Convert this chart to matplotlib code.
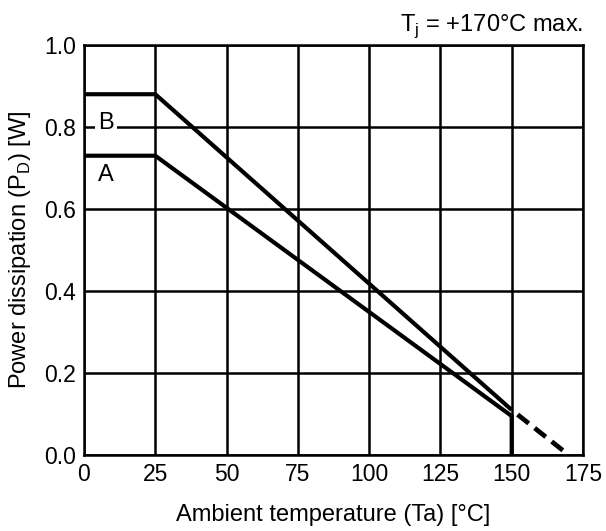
import matplotlib
matplotlib.use("Agg")
import matplotlib.pyplot as plt

plt.rcParams["font.family"] = ["Liberation Sans", "DejaVu Sans"]

# derating curves (ambient temp in degC, power in W)
temp_a = [0, 25, 150, 150]
power_a = [0.73, 0.73, 0.095, 0.0]
temp_b = [0, 25, 150]
power_b = [0.88, 0.88, 0.11]
temp_b_ext = [150, 170]
power_b_ext = [0.11, 0.0]

x_ticks = [0, 25, 50, 75, 100, 125, 150, 175]
y_ticks = [0.0, 0.2, 0.4, 0.6, 0.8, 1.0]

fig = plt.figure(figsize=(6.06, 5.31), dpi=100)
ax = fig.add_axes([0.1386, 0.1431, 0.8234, 0.7721])

ax.plot(temp_a, power_a, color="k", linewidth=3.0, solid_capstyle="butt", zorder=3)
ax.plot(temp_b, power_b, color="k", linewidth=3.0, solid_capstyle="butt", zorder=3)
ax.plot(temp_b_ext, power_b_ext, color="k", linewidth=3.4, linestyle=(3.0, (3.0, 1.6)),
        dash_capstyle="butt", zorder=3)

ax.set_xlim(0, 175)
ax.set_ylim(0, 1.0)
ax.set_xticks(x_ticks)
ax.set_yticks(y_ticks)
ax.set_yticklabels([f"{v:.1f}" for v in y_ticks])
ax.tick_params(length=0, labelsize=16.5, pad=6)
ax.grid(True, color="k", linewidth=1.8)
ax.set_axisbelow(True)
for s in ax.spines.values():
    s.set_linewidth(1.8)

ax.text(7.7, 0.81, "B", fontsize=17, ha="center", va="center",
        bbox=dict(facecolor="white", edgecolor="none", pad=2.5), zorder=4)
ax.text(7.7, 0.682, "A", fontsize=17, ha="center", va="center", zorder=4)

ax.set_xlabel("Ambient temperature (Ta) [\u00b0C]", fontsize=17, labelpad=13)
ax.set_ylabel("Power dissipation (P$_{\\mathregular{D}}$) [W]", fontsize=17, labelpad=8)
ax.text(1.0, 1.034, "T$_{\\mathregular{j}}$ = +170\u00b0C max.", transform=ax.transAxes,
        ha="right", va="baseline", fontsize=17)

fig.savefig("out.png", dpi=100)
